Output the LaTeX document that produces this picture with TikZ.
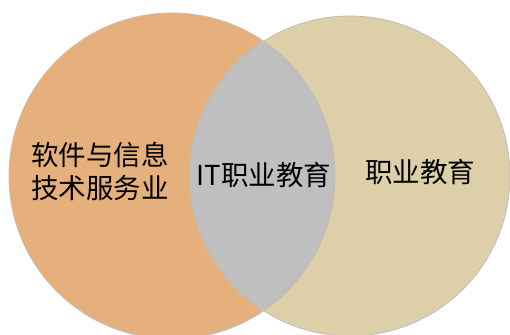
\documentclass[tikz,border=0pt]{standalone}
\usepackage{fontspec}
\newfontfamily\cjk{Noto Sans CJK SC}
\definecolor{leftfill}{RGB}{230,176,125}
\definecolor{rightfill}{RGB}{221,207,167}
\definecolor{midfill}{RGB}{191,191,191}
\definecolor{rim}{RGB}{190,190,190}
\begin{document}
\begin{tikzpicture}[x=1pt,y=1pt,
  lbl/.style={font=\cjk\fontsize{27.5}{33}\selectfont, text=black, align=center, inner sep=0pt}]
\useasboundingbox (0,0) rectangle (510,334);
\coordinate (cl) at (172,158);
\coordinate (cr) at (350,158);
\fill[leftfill] (cl) circle[radius=163];
\fill[rightfill] (cr) circle[radius=160];
\begin{scope}
  \clip (cl) circle[radius=163];
  \fill[midfill] (cr) circle[radius=160];
\end{scope}
\draw[rim, line width=0.8pt] (cl) circle[radius=163];
\draw[rim, line width=0.8pt] (cr) circle[radius=160];
\node[lbl] (a) at (100,163) {软件与信息\\技术服务业};
\node[lbl] (b) at (264,159) {IT职业教育};
\node[lbl] (c) at (420,162) {职业教育};
\end{tikzpicture}
\end{document}
